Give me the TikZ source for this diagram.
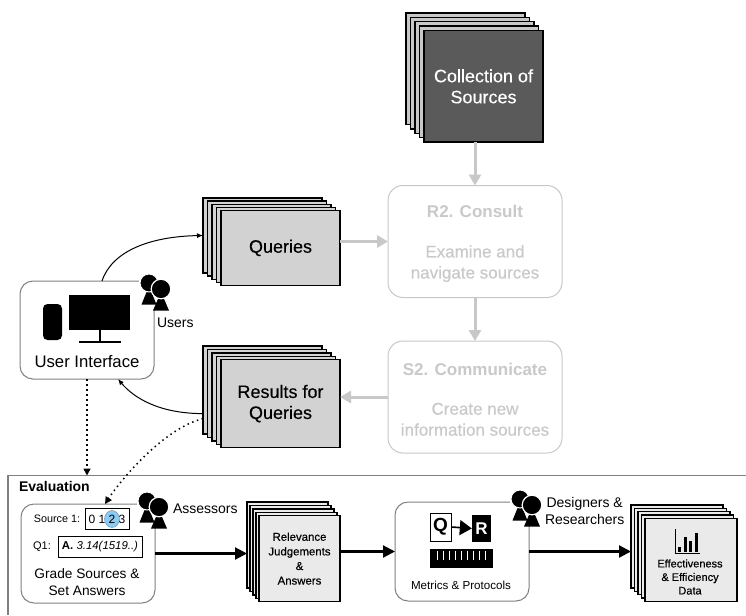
\documentclass[tikz,border=0pt]{standalone}
\usepackage{fontspec}
\setmainfont{Liberation Sans}
\newfontfamily\medfont[FakeBold=0.25]{Liberation Sans}
\usetikzlibrary{arrows.meta,calc}
\newcommand{\fsz}[1]{\fontsize{#1}{#1}\selectfont}
\tikzset{
  sheet/.style={draw=black,line width=1.4pt,inner sep=0pt,outer sep=0pt,align=center},
  softbox/.style={draw=#1,line width=1pt,rounded corners=13pt,inner sep=0pt,outer sep=0pt,fill=white,align=center},
  graylink/.style={draw=graylt,line width=3pt,-{Triangle[length=11pt,width=12pt]}},
  thicklink/.style={draw=black,line width=2.2pt,-{Triangle[length=12pt,width=12pt]}},
  thinlink/.style={draw=black,line width=1pt,-{Latex[length=6pt,width=5pt]}},
  dotlink/.style={draw=black,line width=1.5pt,dash pattern=on 1.5pt off 3.5pt,-{Triangle[length=7pt,width=7pt]}},
  lbl/.style={inner sep=0pt,outer sep=0pt,align=center,font=\fsz{14}},
}
\definecolor{graylt}{HTML}{C8C8C8}
\definecolor{graytx}{HTML}{C9C9C9}
\definecolor{sheetgray}{HTML}{D2D2D2}
\definecolor{sheetlt}{HTML}{EAEAEA}
\definecolor{darkfill}{HTML}{5A5A5A}
\definecolor{boxline}{HTML}{808080}
\definecolor{bluedot}{HTML}{8CCBF3}
\newcommand{\stackof}[9]{%
  \foreach \k in {0,1,2,3}{%
    \node[sheet,fill=#8,minimum width=#4pt,minimum height=#5pt] (#1\k)
      at ({#2+#4/2+\k*#6},{#3+#5/2+\k*#7}) {};
  }%
  \node[sheet,fill=#9,minimum width=#4pt,minimum height=#5pt,stacktext] (#1f)
      at ({#2+#4/2+4*#6},{#3+#5/2+4*#7}) {\stackcontent};
}
\newcommand{\people}[2]{%
  \begin{scope}[shift={(#1,#2)}]
    \fill[white] (-10,-10) rectangle (22,27);
    \fill[black] (-7.5,21.5) -- (0,3) -- (7.5,21.5) -- cycle;
    \fill[black,draw=white,line width=1pt] (0,0) circle (9);
    \fill[black] (4,27.5) -- (12,9) -- (20,27.5) -- cycle;
    \fill[black,draw=white,line width=1.2pt] (12,6) circle (9.8);
  \end{scope}%
}
\begin{document}
\begin{tikzpicture}[x=1pt,y=-1pt]
\useasboundingbox (0,0) rectangle (746,615);
\fill[white] (0,0) rectangle (746,615);

\coordinate (evalcorner) at (8,475.5);
\draw[boxline,line width=1.5pt] (8,615) -- (evalcorner) -- (746,475.5);
\node[lbl,anchor=west,font=\fsz{14}\bfseries] (evallabel) at (19,486.5) {Evaluation};

\tikzset{stacktext/.style={text=white,font=\fsz{18}\medfont}}
\def\stackcontent{Collection of\\[3pt]Sources}
\stackof{cs}{406}{13}{119}{111.5}{4.5}{4.4}{graylt}{darkfill}

\tikzset{stacktext/.style={font=\fsz{18}\medfont}}
\def\stackcontent{Queries}
\stackof{qs}{203}{198}{119}{75}{4.5}{3.1}{sheetgray}{sheetgray}

\def\stackcontent{Results for\\[3pt]Queries}
\stackof{rs}{203}{346}{119}{88}{4.5}{3.4}{sheetgray}{sheetgray}

\tikzset{stacktext/.style={font=\fsz{11.4}\medfont}}
\def\stackcontent{Relevance\\[3.2pt]Judgements\\[3.2pt]\&\\[3.2pt]Answers}
\stackof{rel}{247}{502}{81}{86}{3}{3.4}{sheetlt}{sheetlt}

\tikzset{stacktext/.style={}}
\def\stackcontent{}
\stackof{eff}{631}{505}{92}{83}{3.5}{3.3}{sheetlt}{sheetlt}

\node[softbox=graylt,rounded corners=15pt,minimum width=174pt,minimum height=112pt,text=graytx,font=\fsz{17}] (r2) at (475,241.5)
  {\rule{0pt}{17pt}\textbf{R2. Consult}\\[22.5pt]\medfont Examine and\\[4pt]\medfont navigate sources};
\node[softbox=graylt,rounded corners=15pt,minimum width=174pt,minimum height=112pt,text=graytx,font=\fsz{17}] (s2) at (475,397)
  {\rule{0pt}{17pt}\textbf{S2. Communicate}\\[22.5pt]\medfont Create new\\[4pt]\medfont information sources};
\node[softbox=boxline,minimum width=134pt,minimum height=98pt] (ui) at (87,330) {};
\node[softbox=boxline,minimum width=134pt,minimum height=99pt] (grade) at (88,553.5) {};
\node[softbox=boxline,minimum width=134pt,minimum height=99pt] (metrics) at (462,551.5) {};

\draw[graylink] (csf.south -| r2.north) -- (r2.north);
\draw[graylink] (qsf.east |- r2.west) -- (r2.west);
\draw[graylink] (r2.south) -- (s2.north);
\draw[graylink] (s2.west) -- (rsf.east |- s2.west);

\draw[thinlink] ($(ui.north)+(15,0)$) .. controls +(10,-30) and +(-53,1) .. (qs0.west);
\draw[thinlink] ($(rs0.west |- rsf.west)+(0,10)$) .. controls +(-45,0) and +(15,18) .. ($(ui.south)+(31,0)$);
\draw[dotlink] (ui.south) -- (ui.south |- evalcorner);
\draw[dotlink] ($(rs0.west |- rsf.west)+(0,15)$) .. controls +(-40,10) and +(15,-23) .. ($(grade.north)+(17,0)$);

\node[fill=black,minimum width=61pt,minimum height=35pt,inner sep=0pt] (screen) at (99.5,312.5) {};
\fill[black,rounded corners=4.5pt] (43,304) rectangle (62,340);
\draw[black,line width=2pt] (screen.south) -- ++(0,12);
\draw[black,line width=2.2pt] (79,342) -- (120.5,342);
\node[lbl,font=\fsz{16.7}] (uitext) at (87,362) {User Interface};
\people{149}{283}
\node[lbl,anchor=west] (userslabel) at (157,323) {Users};

\node[lbl,font=\fsz{10.8}] (src1) at (57,519) {Source 1:};
\node[draw=black,line width=1pt,minimum width=44pt,minimum height=21pt,inner sep=0pt] (srcbox) at (107,518.5) {};
\fill[bluedot,draw=bluedot!70!black,line width=.4pt] (112,519) ellipse (7.5 and 8.5);
\node[lbl,font=\fsz{12}] (scale) at (107,519) {0 1 2 3};
\node[lbl,font=\fsz{11}] (q1) at (42,547) {Q1:};
\node[draw=black,line width=1pt,minimum width=84pt,minimum height=21pt,inner sep=0pt,font=\fsz{11.4}] (ansbox) at (100,546.5) {\textbf{A.} \textit{3.14(1519..)}};
\node[lbl,font=\fsz{13.7}] (gradetext) at (87,582) {Grade Sources \&\\[3.3pt]Set Answers};
\people{147}{501}
\node[lbl,anchor=west] (asslabel) at (173,509) {Assessors};

\node[draw=black,line width=1pt,fill=white,minimum width=21pt,minimum height=28pt,inner sep=0pt,font=\fsz{19}\bfseries] (qbox) at (440.5,527) {Q};
\node[fill=black,text=white,minimum width=19pt,minimum height=27pt,inner sep=0pt,font=\fsz{17}\bfseries] (rbox) at (481.5,528.5) {R};
\draw[black,line width=1.6pt,-{Triangle[length=12pt,width=15pt]}] (qbox.east) -- (rbox.west);
\node[fill=black,minimum width=63pt,minimum height=19pt,inner sep=0pt] (bar) at (461.5,558.5) {};
\foreach \i in {0,...,8}{\draw[white,line width=.6pt] ({437+\i*6},550.5) -- ({437+\i*6},559.5);}
\node[lbl,font=\fsz{11.6}] (mettext) at (461,585) {Metrics \& Protocols};
\people{520}{499}
\node[lbl,anchor=west] (deslabel) at (545,511) {Designers \&\\[3pt]Researchers};

\draw[thicklink] (grade.east) -- (grade.east -| rel0.west);
\draw[thicklink] (relf.east |- metrics.west) -- (metrics.west);
\draw[thicklink] (metrics.east) -- (metrics.east -| eff0.west);

\draw[black,line width=1pt] (675.3,529) -- (675.3,553.5) -- (700,553.5);
\fill[black] (678,547) rectangle (681,552);
\fill[black] (683.5,537) rectangle (686.5,552);
\fill[black] (689,541) rectangle (692,552);
\fill[black] (694.5,533) rectangle (697.5,552);
\node[lbl,font=\fsz{11}\medfont] (efftext) at (690,577) {Effectiveness\\[2.5pt]\& Efficiency\\[2.5pt]Data};
\end{tikzpicture}
\end{document}
